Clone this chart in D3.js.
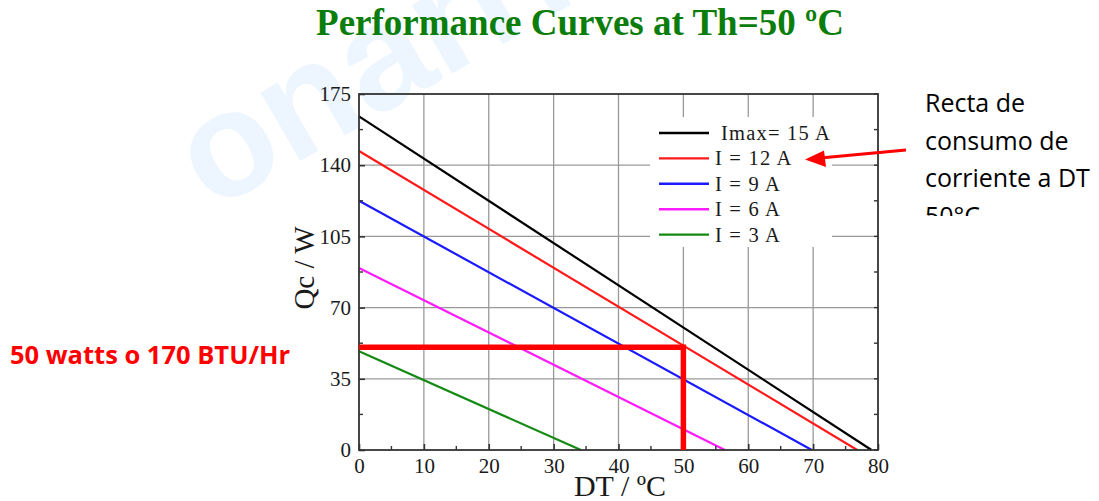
<!DOCTYPE html>
<html>
<head>
<meta charset="utf-8">
<script src="https://cdn.jsdelivr.net/npm/d3@7"></script>
<style>
html,body{margin:0;padding:0;background:#fff;}
svg{display:block;}
</style>
</head>
<body>
<svg id="chart" width="1099" height="501"></svg>
<script>
// ---- data ----
const seriesNames = ["Imax= 15 A", "I = 12 A", "I = 9 A", "I = 6 A", "I = 3 A"];
const seriesColors = ["#000000", "#ff1a1a", "#1a1aff", "#ff1aff", "#138a13"];
const qcAtDT0 = [164, 147, 122.5, 89.5, 48.5];   // Qc (W) at DT = 0
const dtAtQc0 = [79, 76.8, 69.8, 56.4, 34.2];    // DT (°C) where Qc = 0
const xTicks = [0, 10, 20, 30, 40, 50, 60, 70, 80];
const yTicks = [0, 35, 70, 105, 140, 175];
const opDT = 50;     // operating point DT
const opQc = 50.5;   // operating point Qc
const titleText = "Performance Curves at Th=50 ºC";
const xLabel = "DT / ºC";
const yLabel = "Qc / W";
const noteLines = ["Recta de", "consumo de", "corriente a DT", "50°C"];
const leftNote = "50 watts o 170 BTU/Hr";

// ---- layout ----
const svg = d3.select("#chart");
const L = 359, R = 878, T = 94, B = 450;
const x = d3.scaleLinear().domain([0, 80]).range([L, R]);
const y = d3.scaleLinear().domain([0, 175]).range([B, T]);
const serif = "'Liberation Serif', 'Times New Roman', serif";
const sans = "'Open Sans', 'Noto Sans', sans-serif";

// watermark
svg.append("text")
  .attr("transform", "translate(212,212) rotate(-30)")
  .attr("font-family", "'Liberation Sans', Arial, sans-serif")
  .attr("font-weight", "bold")
  .attr("font-size", 150)
  .attr("fill", "#edf5fe")
  .text("onarri");

// title
svg.append("text")
  .attr("x", 580).attr("y", 35)
  .attr("text-anchor", "middle")
  .attr("font-family", serif)
  .attr("font-weight", "bold")
  .attr("font-size", 37)
  .attr("fill", "#0b7d0b")
  .text(titleText);

// grid
const grid = svg.append("g").attr("stroke", "#999").attr("stroke-width", 1.3);
grid.selectAll("line.gx").data(xTicks.slice(1, -1)).join("line")
  .attr("x1", d => x(d)).attr("x2", d => x(d)).attr("y1", T).attr("y2", B);
grid.selectAll("line.gy").data(yTicks.slice(1, -1)).join("line")
  .attr("x1", L).attr("x2", R).attr("y1", d => y(d)).attr("y2", d => y(d));

// series lines
const line = d3.line().x(d => x(d[0])).y(d => y(d[1]));
seriesNames.forEach((name, i) => {
  svg.append("path")
    .datum([[0, qcAtDT0[i]], [dtAtQc0[i], 0]])
    .attr("d", line)
    .attr("fill", "none")
    .attr("stroke", seriesColors[i])
    .attr("stroke-width", 2.2);
});

// legend box
const lg = svg.append("g");
lg.append("rect").attr("x", 650).attr("y", 117).attr("width", 182).attr("height", 130).attr("fill", "#fff");
seriesNames.forEach((name, i) => {
  const yy = 133 + i * 25.4;
  lg.append("line").attr("x1", 659).attr("x2", 709).attr("y1", yy).attr("y2", yy)
    .attr("stroke", seriesColors[i]).attr("stroke-width", 2.4);
  lg.append("text").attr("x", i === 0 ? 721 : 715).attr("y", yy + 7)
    .attr("font-family", serif).attr("font-size", 20.5).attr("letter-spacing", 1.2)
    .attr("fill", "#1a1a1a")
    .text(name);
});

// axes
const ax = svg.append("g").attr("stroke", "#333").attr("stroke-width", 1.8).attr("fill", "none");
ax.append("rect").attr("x", L).attr("y", T).attr("width", R - L).attr("height", B - T);

const xAxis = d3.axisBottom(x).tickValues(xTicks).tickSize(-6).tickPadding(8).tickFormat(d3.format("d"));
const gx = svg.append("g").attr("transform", `translate(0,${B})`).call(xAxis);
gx.select(".domain").remove();
gx.selectAll("line").attr("stroke", "#333").attr("stroke-width", 1.6);
gx.selectAll("text").attr("font-family", serif).attr("font-size", 21).attr("fill", "#1a1a1a");

const yAxis = d3.axisLeft(y).tickValues(yTicks).tickSize(-6).tickPadding(8);
const gy = svg.append("g").attr("transform", `translate(${L},0)`).call(yAxis);
gy.select(".domain").remove();
gy.selectAll("line").attr("stroke", "#333").attr("stroke-width", 1.6);
gy.selectAll("text").attr("font-family", serif).attr("font-size", 21).attr("fill", "#1a1a1a");

// minor ticks
const xMinor = xTicks.slice(0, -1).map(d => d + 5);
const yMinor = yTicks.slice(0, -1).map(d => d + 17.5);
const mt = svg.append("g").attr("stroke", "#333").attr("stroke-width", 1.4);
mt.selectAll("line.xm").data(xMinor).join("line")
  .attr("x1", d => x(d)).attr("x2", d => x(d)).attr("y1", B).attr("y2", B - 4);
mt.selectAll("line.ym").data(yMinor).join("line")
  .attr("x1", L).attr("x2", L + 4).attr("y1", d => y(d)).attr("y2", d => y(d));
mt.selectAll("line.yr").data(yTicks.concat(yMinor)).join("line")
  .attr("x1", R).attr("x2", R - 4).attr("y1", d => y(d)).attr("y2", d => y(d));

// axis labels
svg.append("text")
  .attr("x", 620).attr("y", 496)
  .attr("text-anchor", "middle")
  .attr("font-family", serif).attr("font-size", 30).attr("fill", "#1a1a1a")
  .text(xLabel);
svg.append("text")
  .attr("transform", `translate(314,${(T + B) / 2 - 4}) rotate(-90)`)
  .attr("text-anchor", "middle")
  .attr("font-family", serif).attr("font-size", 29).attr("fill", "#1a1a1a")
  .text(yLabel);

// operating point (thick red)
const op = d3.line().x(d => x(d[0])).y(d => y(d[1]));
svg.append("path")
  .datum([[0, opQc], [opDT, opQc], [opDT, 0]])
  .attr("d", op)
  .attr("fill", "none").attr("stroke", "#ff0000").attr("stroke-width", 5.5)
  .attr("stroke-linejoin", "miter");

// arrow
svg.append("line")
  .attr("x1", 906).attr("y1", 150).attr("x2", 815).attr("y2", 158.5)
  .attr("stroke", "#ff0000").attr("stroke-width", 3);
svg.append("path").attr("d", "M805,159.5 L824,150.5 L826,167 Z").attr("fill", "#ff0000");

// right note (clipped)
svg.append("clipPath").attr("id", "noteclip").append("rect")
  .attr("x", 900).attr("y", 80).attr("width", 199).attr("height", 136);
const note = svg.append("g").attr("clip-path", "url(#noteclip)");
noteLines.forEach((t, i) => {
  note.append("text").attr("x", 925).attr("y", 112 + i * 37.5)
    .attr("font-family", sans)
    .attr("font-size", 25).attr("fill", "#000")
    .text(t);
});

// left note
svg.append("text")
  .attr("x", 10).attr("y", 364)
  .attr("font-family", sans)
  .attr("font-weight", "bold")
  .attr("font-size", 25.5).attr("fill", "#ff0000")
  .text(leftNote);
</script>
</body>
</html>
